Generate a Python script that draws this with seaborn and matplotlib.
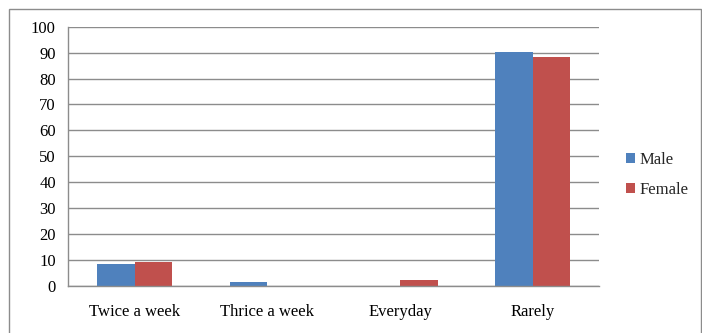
import matplotlib
matplotlib.use("Agg")
import matplotlib.pyplot as plt
from matplotlib.patches import Rectangle
from matplotlib.ticker import FixedLocator
import pandas as pd
import seaborn as sns

# Survey frequency by gender (percent)
categories = ["Twice a week", "Thrice a week", "Everyday", "Rarely"]
male = [8.5, 1.6, 0.0, 90.2]
female = [9.2, 0.0, 2.3, 88.3]
series = ["Male", "Female"]
colors = ["#4F81BD", "#C0504D"]
y_ticks = list(range(0, 101, 10))

df = pd.DataFrame({
    "category": categories * 2,
    "value": male + female,
    "gender": ["Male"] * len(categories) + ["Female"] * len(categories),
})

sns.set_theme(style="white")
plt.rcParams["font.family"] = ["Liberation Serif", "DejaVu Serif"]

W, H = 702, 333
fig = plt.figure(figsize=(W / 100, H / 100), dpi=100)
ax = fig.add_axes([68.3 / W, 1 - 286 / H, (599 - 68.3) / W, (286 - 26.7) / H])

sns.barplot(data=df, x="category", y="value", hue="gender", order=categories,
            hue_order=series, palette=colors, width=0.57, saturation=1,
            edgecolor="none", linewidth=0, ax=ax, legend=False)

grid_c = "#8C8C8C"
fs = 12
ax.set_xlim(-0.5, len(categories) - 0.5)
ax.set_ylim(0, 100)
ax.set_yticks(y_ticks)
ax.set_yticklabels([str(t) for t in y_ticks], fontsize=fs, color="#000000")
ax.set_xticks(range(len(categories)))
ax.set_xticklabels(categories, fontsize=fs, color="#000000")
ax.xaxis.set_minor_locator(FixedLocator([i + 0.5 for i in range(len(categories))]))
ax.tick_params(axis="x", which="major", length=0, pad=13)
ax.tick_params(axis="x", which="minor", length=5, width=1, color=grid_c, direction="out")
ax.tick_params(axis="y", which="major", length=3, width=1, color=grid_c, direction="out", pad=6)
ax.set_xlabel("")
ax.set_ylabel("")
ax.yaxis.grid(True, color=grid_c, linewidth=1)
ax.set_axisbelow(True)
for side in ["top", "right"]:
    ax.spines[side].set_visible(False)
for side in ["left", "bottom"]:
    ax.spines[side].set_color(grid_c)
    ax.spines[side].set_linewidth(1)

# Legend on the right
handles = [Rectangle((0, 0), 1, 1, facecolor=c, edgecolor="none") for c in colors]
fig.legend(handles, series, loc="center left", bbox_to_anchor=(619 / W, 1 - 175 / H),
           frameon=False, fontsize=fs, handlelength=0.55, handleheight=0.55,
           handletextpad=0.3, labelspacing=0.85, borderaxespad=0)

# Chart frame
fig.patches.append(Rectangle((9 / W, -0.05), (700.5 - 9) / W, 1.05 - 9 / H,
                             transform=fig.transFigure, fill=False,
                             edgecolor="#8C8C8C", linewidth=1))

fig.savefig("out.png", dpi=100, facecolor="white")
